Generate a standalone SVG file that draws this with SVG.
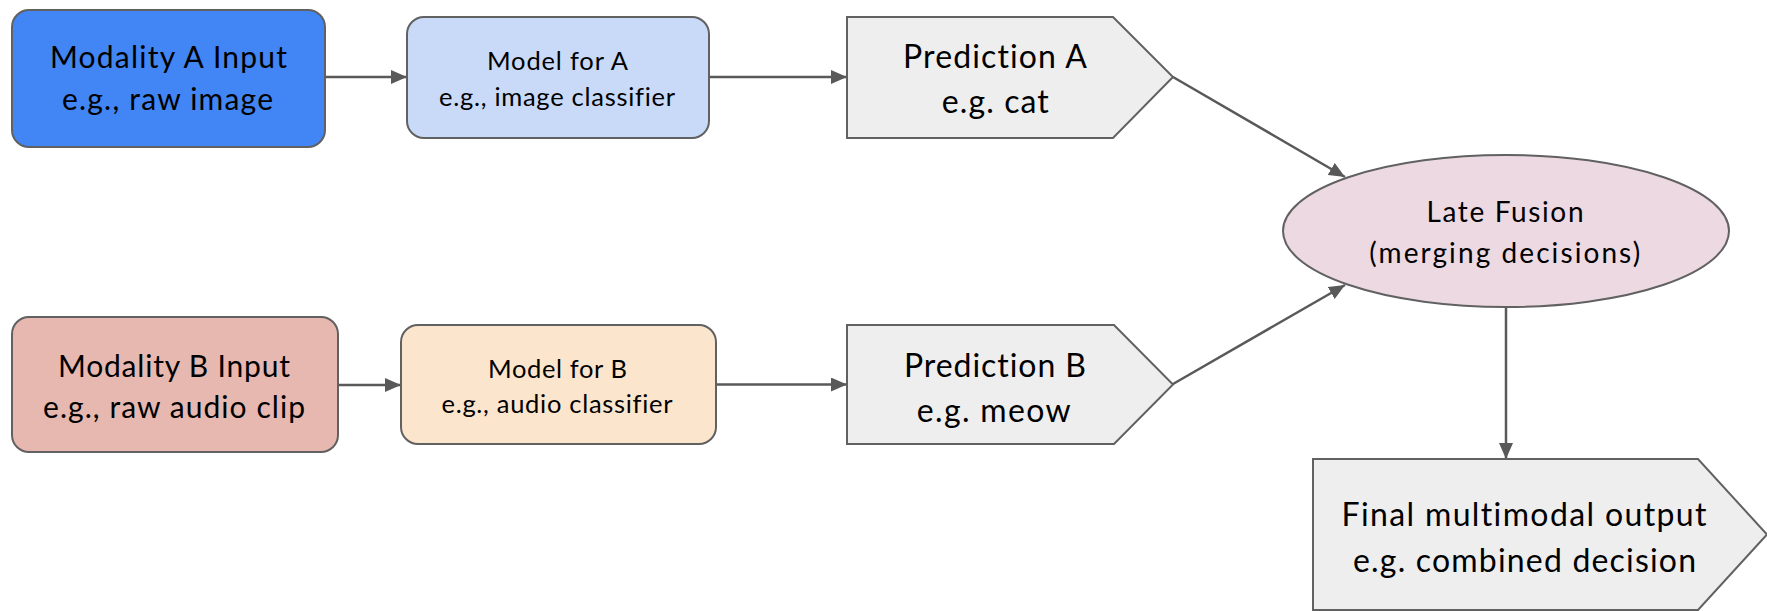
<svg xmlns="http://www.w3.org/2000/svg" width="1767" height="611" viewBox="0 0 1767 611">
  <style>
    .shape { stroke: #616161; stroke-width: 2; }
    .link { stroke: #595959; stroke-width: 2.5; fill: none; marker-end: url(#arrow); }
    text { font-family: Lato, "Open Sans", "Liberation Sans", sans-serif; fill: #000; text-anchor: middle; font-variant-ligatures: none; font-feature-settings: "liga" 0, "clig" 0; }
    .big { font-size: 30px; }
    .mid { font-size: 25.5px; }
    .pred { font-size: 32px; }
    .fuse { font-size: 28px; }
  </style>
  <defs>
    <marker id="arrow" markerUnits="userSpaceOnUse" markerWidth="16" markerHeight="14" refX="16" refY="7" orient="auto">
      <path d="M0,0 L16,7 L0,14 Z" fill="#595959"/>
    </marker>
  </defs>

  <!-- connectors -->
  <g id="connectors">
    <line class="link" x1="325" y1="77" x2="407" y2="77"/>
    <line class="link" x1="709" y1="77" x2="847" y2="77"/>
    <line class="link" x1="338" y1="385" x2="401" y2="385"/>
    <line class="link" x1="716" y1="384.5" x2="847" y2="384.5"/>
    <line class="link" x1="1173" y1="77" x2="1345" y2="177"/>
    <line class="link" x1="1173" y1="384" x2="1345" y2="285"/>
    <line class="link" x1="1506" y1="307" x2="1506" y2="459"/>
  </g>

  <g id="modality-a-input">
    <rect class="shape" x="12" y="10" width="313" height="137" rx="17" fill="#4285F4"/>
    <text class="big" x="168.5" y="68" textLength="237">Modality A Input</text>
    <text class="big" x="167.5" y="110" textLength="211">e.g., raw image</text>
  </g>

  <g id="model-a">
    <rect class="shape" x="407" y="17" width="302" height="121" rx="17" fill="#C9DAF8"/>
    <text class="mid" x="557.5" y="70" textLength="141">Model for A</text>
    <text class="mid" x="557" y="106" textLength="236">e.g., image classifier</text>
  </g>

  <g id="prediction-a">
    <polygon class="shape" points="847,17 1113,17 1173,77 1113,138 847,138" fill="#EEEEEE"/>
    <text class="pred" x="995" y="68.3" textLength="184">Prediction A</text>
    <text class="pred" x="995.3" y="113.3" textLength="107">e.g. cat</text>
  </g>

  <g id="modality-b-input">
    <rect class="shape" x="12" y="317" width="326" height="135" rx="17" fill="#E6B8AF"/>
    <text class="big" x="174" y="376.7" textLength="232">Modality B Input</text>
    <text class="big" x="174" y="418" textLength="262">e.g., raw audio clip</text>
  </g>

  <g id="model-b">
    <rect class="shape" x="401" y="325" width="315" height="119" rx="17" fill="#FCE5CD"/>
    <text class="mid" x="557.5" y="378" textLength="139">Model for B</text>
    <text class="mid" x="557" y="413" textLength="231">e.g., audio classifier</text>
  </g>

  <g id="prediction-b">
    <polygon class="shape" points="847,325 1114,325 1173,384.5 1114,444 847,444" fill="#EEEEEE"/>
    <text class="pred" x="995" y="376.7" textLength="182">Prediction B</text>
    <text class="pred" x="993.7" y="421.7" textLength="154">e.g. meow</text>
  </g>

  <g id="late-fusion">
    <ellipse class="shape" cx="1506" cy="231" rx="223" ry="76" fill="#EDD9E2"/>
    <text class="fuse" x="1505" y="221.7" textLength="157">Late Fusion</text>
    <text class="fuse" x="1504.7" y="263.3" textLength="271">(merging decisions)</text>
  </g>

  <g id="final-output">
    <polygon class="shape" points="1313,459 1698,459 1767,534.5 1698,610 1313,610" fill="#EEEEEE"/>
    <text class="pred" x="1524" y="526" textLength="365">Final multimodal output</text>
    <text class="pred" x="1524.5" y="571.7" textLength="343">e.g. combined decision</text>
  </g>
</svg>
